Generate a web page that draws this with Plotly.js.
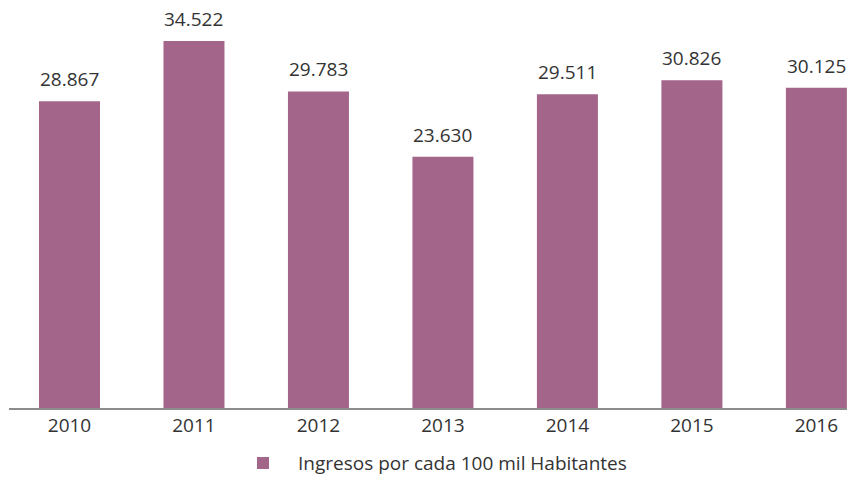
<!DOCTYPE html>
<html>
<head>
<meta charset="utf-8">
<script src="https://cdn.plot.ly/plotly-3.0.1.min.js"></script>
<style>html,body{margin:0;padding:0;background:#fff;}#chart{width:860px;height:480px;}</style>
</head>
<body>
<div id="chart"></div>
<script>
const years = ["2010", "2011", "2012", "2013", "2014", "2015", "2016"];
const ingresos = [28.867, 34.522, 29.783, 23.630, 29.511, 30.826, 30.125];
const labels = ["28.867", "34.522", "29.783", "23.630", "29.511", "30.826", "30.125"];
const seriesName = "Ingresos por cada 100 mil Habitantes";

const trace = {
  type: "bar",
  x: years,
  y: ingresos,
  name: seriesName,
  marker: {color: "#a3658a"},
  width: 0.49,
  hoverinfo: "none"
};

const annotations = years.map((yr, i) => ({
  x: i, y: ingresos[i], xref: "x", yref: "y",
  text: labels[i], showarrow: false, yanchor: "bottom", yshift: 7,
  font: {family: "Open Sans", size: 19, color: "#333333"}
}));

const layout = {
  width: 860, height: 480,
  margin: {l: 9, r: 13, t: 10, b: 72, autoexpand: false},
  paper_bgcolor: "#ffffff", plot_bgcolor: "#ffffff",
  font: {family: "Open Sans", color: "#333333", size: 18},
  showlegend: true,
  legend: {orientation: "h", x: 0.5, xanchor: "center", xref: "container",
           y: 0.035, yanchor: "middle", yref: "container", itemwidth: 60,
           font: {family: "Open Sans", size: 19, color: "#333333"}},
  annotations: annotations,
  xaxis: {type: "category", range: [-0.486, 6.246], showline: true, linecolor: "#8c8c8c", linewidth: 1.5,
          ticks: "", showgrid: false, zeroline: false, automargin: false,
          tickfont: {family: "Open Sans", size: 19, color: "#333333"}},
  yaxis: {range: [0, 37.44], visible: false, showgrid: false, zeroline: false},
  bargap: 0.51
};

Plotly.newPlot("chart", [trace], layout, {displayModeBar: false, staticPlot: true});
</script>
</body>
</html>
